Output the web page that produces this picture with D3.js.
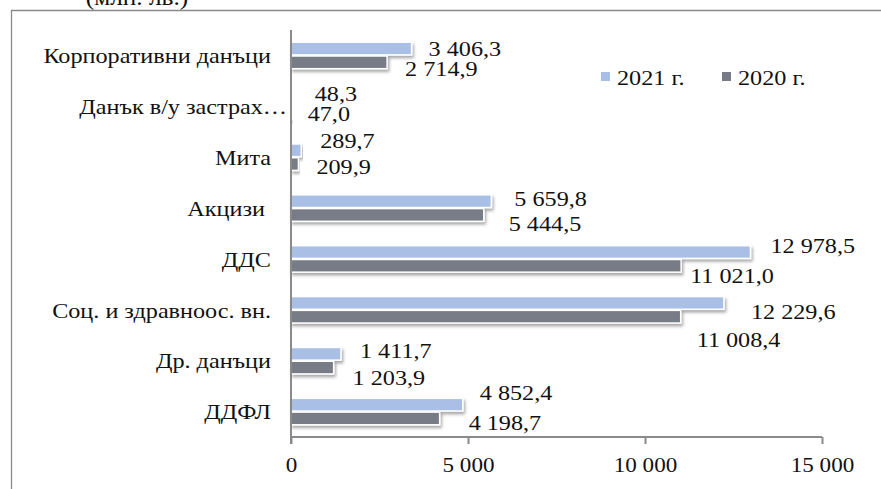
<!DOCTYPE html>
<html><head><meta charset="utf-8">
<script src="https://cdn.jsdelivr.net/npm/d3@7"></script>
<style>
html,body{margin:0;padding:0;background:#fff;}
svg text{font-family:'Liberation Serif','Times New Roman',serif !important;}
</style></head>
<body>
<script>
// ---- data ----
const categories = ["Корпоративни данъци","Данък в/у застрах…","Мита","Акцизи\u00a0","ДДС","Соц. и здравноос. вн.","Др. данъци","ДДФЛ"];
const values2021 = [3406.3, 48.3, 289.7, 5659.8, 12978.5, 12229.6, 1411.7, 4852.4];
const values2020 = [2714.9, 47.0, 209.9, 5444.5, 11021.0, 11008.4, 1203.9, 4198.7];
const seriesNames = ["2021 г.","2020 г."];
const xTicks = [0, 5000, 10000, 15000];
const unitTitle = "(млн. лв.)";

// ---- layout (label nudges relative to bar end / bar centre) ----
const nudge2021 = [[17,0],[22,-6.5],[19,-10],[23,-3],[20,-7],[27,8],[19,-4],[17,-12]];
const nudge2020 = [[18,6],[15,0.5],[18,2],[25,8],[9,9],[16,23],[19,10],[29,4]];
const catLabelDx = [0,16,0,0,0,0,0,0];

const W = 881, H = 489;
const FONT = "'Liberation Serif','Times New Roman',serif";
const SX = 1.1;
const colors = {"2021 г.":"#A9BFE6","2020 г.":"#777B86"};
const locale = d3.formatLocale({decimal:",", thousands:"\u00a0", grouping:[3], currency:["",""]});
const fmtVal = locale.format(",.1f");
const fmtTick = locale.format(",.0f");

const svg = d3.select("body").append("svg").attr("width",W).attr("height",H)
  .style("display","block");
const defs = svg.append("defs");
const f = defs.append("filter").attr("id","sh").attr("x","-5%").attr("y","-30%").attr("width","115%").attr("height","190%");
f.append("feDropShadow").attr("dx",1.5).attr("dy",2.5).attr("stdDeviation",1.4).attr("flood-color","#000").attr("flood-opacity",0.35);

function put(sel, fx, fy){
  sel.attr("transform",(d,i)=>`translate(${fx(d,i)},${fy(d,i)}) scale(${SX},1)`);
}

// outer frame
svg.append("path").attr("d",`M${W+5},10.5 H11.5 V${H+5}`).attr("fill","none").attr("stroke","#8a8a8a").attr("stroke-width",1.3);
// title (cut off at the top)
svg.append("text").attr("text-anchor","middle").attr("font-size",23).attr("fill","#111")
  .attr("transform",`translate(137,5) scale(${SX},1)`).text(unitTitle);

const x = d3.scaleLinear().domain([0,15000]).range([291,822]);
const y = d3.scaleBand().domain(categories).range([30,437]);
const bw = y.bandwidth();
const yIn = d3.scaleBand().domain(seriesNames).range([bw*0.24, bw*0.76]).paddingInner(0.08);

const rows = categories.map((c,i)=>({c,i,v:[values2021[i],values2020[i]]}));

const g = svg.append("g");
seriesNames.forEach((s,k)=>{
  g.selectAll(null).data(rows).join("rect")
   .attr("x",x(0)).attr("y",d=>y(d.c)+yIn(s))
   .attr("width",d=>x(d.v[k])-x(0)).attr("height",yIn.bandwidth())
   .attr("fill",colors[s]).attr("stroke","#fff").attr("stroke-width",1.5)
   .attr("filter","url(#sh)");
});

// value labels
seriesNames.forEach((s,k)=>{
  const nd = k===0?nudge2021:nudge2020;
  const t = svg.selectAll(null).data(rows).join("text")
   .attr("dy","0.35em").attr("font-size",22).attr("fill","#111")
   .text(d=>fmtVal(d.v[k]));
  put(t, d=>x(d.v[k])+nd[d.i][0], d=>y(d.c)+yIn(s)+yIn.bandwidth()/2+nd[d.i][1]);
});

// category labels
const cl = svg.selectAll(null).data(categories).join("text")
  .attr("dy","0.35em").attr("text-anchor","end").attr("font-size",22).attr("fill","#111")
  .style("white-space","pre").text(d=>d);
put(cl, (d,i)=>271+catLabelDx[i], d=>y(d)+bw/2);

// axes
const axisColor = "#8a8a8a";
svg.append("line").attr("x1",291).attr("x2",291).attr("y1",30).attr("y2",444).attr("stroke",axisColor).attr("stroke-width",2);
const xAxis = svg.append("g").attr("transform","translate(0,437)")
  .call(d3.axisBottom(x).tickValues(xTicks).tickFormat(fmtTick).tickSize(7).tickPadding(13));
xAxis.attr("font-family",FONT).attr("font-size",21);
xAxis.select(".domain").attr("d",`M${x(0)},0H${x(15000)}`).attr("stroke",axisColor).attr("stroke-width",2);
xAxis.selectAll(".tick line").attr("stroke",axisColor).attr("stroke-width",2);
xAxis.selectAll(".tick text").attr("fill","#111").attr("transform",`scale(${SX},1)`);

// legend
const lg = svg.append("g");
const legendX = [601, 722];
seriesNames.forEach((s,k)=>{
  lg.append("rect").attr("x",legendX[k]).attr("y",72).attr("width",9).attr("height",9).attr("fill",colors[s]);
  lg.append("text").attr("dy","0.35em").attr("font-size",22).attr("fill","#111")
    .attr("transform",`translate(${legendX[k]+16},77) scale(${SX},1)`).text(s);
});
</script>
</body></html>
